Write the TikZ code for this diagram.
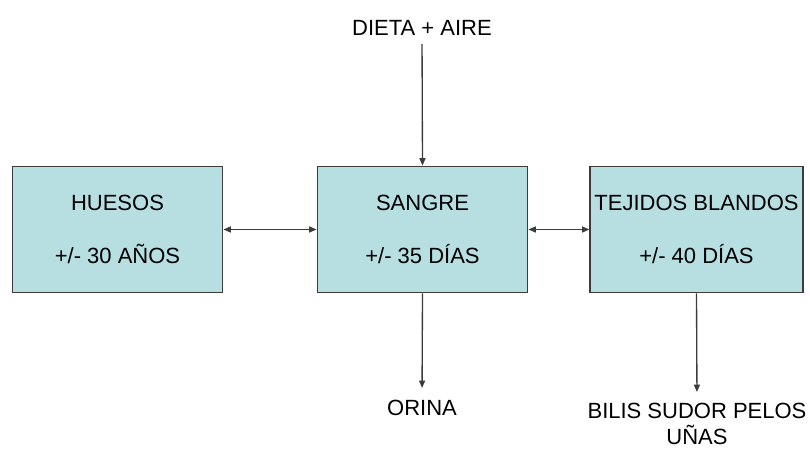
\documentclass[tikz,border=0pt]{standalone}
\usepackage{fontspec}
\setmainfont{Liberation Sans}
\usepackage{xcolor}
\usetikzlibrary{positioning,arrows.meta}

\definecolor{cajafondo}{RGB}{183,222,224}
\definecolor{linea}{RGB}{60,60,60}

\begin{document}
\begin{tikzpicture}[x=0.75pt, y=-0.75pt,
  caja/.style={rectangle, draw=linea, fill=cajafondo, line width=0.9pt, minimum width=158pt, minimum height=95pt, align=center, font=\fontsize{16.5}{20}\selectfont},
  rotulo/.style={align=center, inner sep=0pt, font=\fontsize{16.5}{20}\selectfont},
  flecha/.style={draw=linea, line width=1pt, -{Triangle[length=5.5pt,width=4.5pt]}},
  doble/.style={draw=linea, line width=1pt, {Triangle[length=5.5pt,width=4.5pt]}-{Triangle[length=5.5pt,width=4.5pt]}}]
\useasboundingbox (0,0) rectangle (810,449);

\node[caja] (huesos) at (117.5, 229.5) {HUESOS\\[20pt]+/- 30 AÑOS};
\node[caja] (sangre) at (422.5, 229.5) {SANGRE\\[20pt]+/- 35 DÍAS};
\node[caja] (tejidos) at (696.5, 229.5) {TEJIDOS BLANDOS\\[20pt]+/- 40 DÍAS};

\node[rotulo] (dieta) at (422, 28) {DIETA + AIRE};
\node[rotulo] (orina) at (422, 408) {ORINA};
\node[rotulo] (bilis) at (697, 424) {BILIS SUDOR PELOS\\UÑAS};

\draw[flecha, shorten <=6pt] (dieta.south) -- (sangre.north);
\draw[doble] (huesos.east) -- (sangre.west);
\draw[doble] (sangre.east) -- (tejidos.west);
\draw[flecha, shorten >=9pt] (sangre.south) -- (orina.north);
\draw[flecha, shorten >=8pt] (tejidos.south) -- (bilis.north);

\end{tikzpicture}
\end{document}
